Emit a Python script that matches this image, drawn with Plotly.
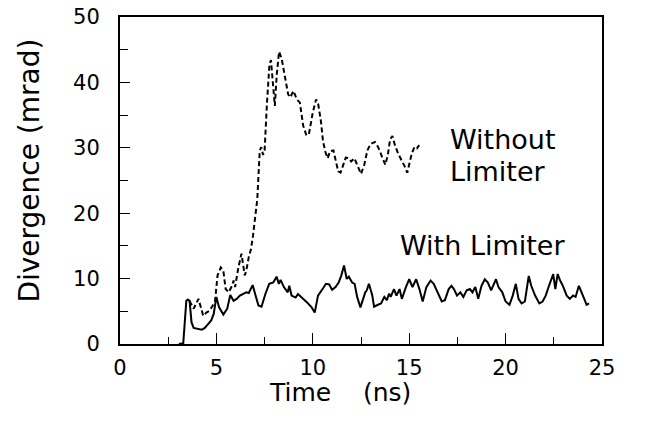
import plotly.graph_objects as go

# ---- data ----
time_without = [3.6, 3.82, 4.07, 4.32, 4.48, 4.65, 4.81, 4.93, 5.06, 5.23, 5.36, 5.48, 5.64, 5.81,
                5.89, 5.97, 6.14, 6.3, 6.47, 6.55, 6.68, 6.8, 6.9, 7.0, 7.12, 7.25, 7.33, 7.42, 7.5,
                7.62, 7.75, 7.83, 7.92, 8.03, 8.13, 8.25, 8.38, 8.55, 8.72, 8.83, 9.0, 9.17, 9.33,
                9.5, 9.67, 9.8, 10.0, 10.17, 10.28, 10.42, 10.53, 10.65, 10.77, 10.9, 11.07, 11.2,
                11.32, 11.44, 11.57, 11.71, 11.88, 11.99, 12.16, 12.33, 12.5, 12.67, 12.83, 13.0,
                13.22, 13.39, 13.59, 13.76, 13.89, 14.01, 14.13, 14.26, 14.43, 14.6, 14.76, 14.9,
                15.01, 15.13, 15.27, 15.4, 15.52]
div_without = [6.6, 5.4, 6.9, 4.3, 4.8, 5.1, 5.9, 6.6, 10.5, 11.7, 11.2, 8.4, 7.9, 8.9,
               9.7, 8.7, 11.7, 13.8, 10.5, 11.2, 13.3, 14.6, 16.6, 19.1, 22.1, 29.6, 30.1, 28.9, 29.6,
               36.7, 42.7, 43.4, 40.2, 36.4, 41.2, 44.7, 43.7, 40.9, 38.2, 37.7, 38.7, 37.4, 36.9,
               33.4, 31.9, 32.1, 35.4, 37.4, 36.7, 34.1, 31.0, 29.4, 28.4, 29.5, 29.6, 27.9,
               26.4, 26.2, 27.4, 28.5, 28.4, 27.9, 28.4, 27.2, 26.0, 27.4, 29.6, 30.6,
               30.9, 30.1, 28.6, 27.4, 28.9, 31.3, 31.8, 30.4, 29.1, 28.2, 27.2, 26.2,
               27.4, 29.1, 30.1, 29.9, 30.4]

time_with = [3.05, 3.28, 3.44, 3.52, 3.61, 3.71, 3.82, 4.07, 4.24, 4.4, 4.57, 4.73, 4.86, 5.0,
             5.14, 5.36, 5.56, 5.72, 5.89, 6.05, 6.22, 6.38, 6.55, 6.68, 6.88, 7.01, 7.18, 7.34,
             7.54, 7.74, 7.95, 8.12, 8.24, 8.33, 8.5, 8.7, 8.78, 8.9, 9.11, 9.23, 9.44, 9.69,
             9.94, 10.1, 10.27, 10.43, 10.55, 10.68, 10.85, 11.0, 11.18, 11.34, 11.48, 11.62,
             11.76, 11.87, 12.04, 12.17, 12.3, 12.47, 12.58, 12.72, 12.8, 12.91, 13.08, 13.18,
             13.38, 13.54, 13.71, 13.84, 13.96, 14.04, 14.21, 14.34, 14.5, 14.62, 14.83, 15.0,
             15.17, 15.36, 15.53, 15.7, 15.89, 16.11, 16.27, 16.39, 16.52, 16.69, 16.85, 17.05,
             17.19, 17.32, 17.48, 17.65, 17.81, 17.98, 18.15, 18.28, 18.43, 18.58, 18.75, 18.92,
             19.08, 19.25, 19.5, 19.63, 19.83, 20.0, 20.2, 20.37, 20.53, 20.67, 20.83, 21.0,
             21.2, 21.33, 21.53, 21.75, 21.92, 22.08, 22.25, 22.47, 22.58, 22.7, 22.83, 22.97,
             23.17, 23.33, 23.5, 23.63, 23.8, 23.92, 24.08, 24.2, 24.33]
div_with = [0.0, 0.1, 6.6, 6.8, 6.6, 3.3, 2.45, 2.3, 2.2, 2.45, 3.1, 3.6, 4.6, 7.2,
            5.6, 4.5, 5.4, 7.5, 6.6, 6.9, 7.4, 7.65, 7.9, 7.8, 9.0, 7.65, 5.9, 5.7,
            7.65, 9.2, 9.4, 10.3, 9.2, 9.8, 8.7, 7.9, 8.9, 7.4, 7.1, 7.65, 7.1, 6.4,
            5.6, 4.8, 7.4, 8.2, 8.6, 9.2, 9.1, 8.3, 8.7, 9.4, 10.5, 12.0,
            9.95, 10.3, 9.4, 9.2, 7.2, 5.6, 6.7, 7.9, 8.2, 9.2, 7.5, 5.7,
            6.0, 6.2, 7.2, 6.7, 7.7, 7.2, 8.4, 7.4, 8.4, 6.9, 8.7, 9.9,
            8.7, 9.9, 8.4, 6.5, 8.7, 9.7, 9.2, 8.4, 7.4, 6.5, 6.7, 8.4,
            8.9, 8.4, 7.4, 7.9, 7.2, 8.2, 8.4, 7.9, 8.7, 6.9, 8.9, 9.9,
            9.4, 8.2, 9.9, 8.7, 7.9, 6.5, 6.0, 7.4, 9.2, 6.9, 6.2, 6.5,
            10.4, 8.9, 7.4, 6.2, 6.5, 7.4, 8.9, 10.7, 8.4, 10.7, 9.7, 8.9,
            7.4, 6.9, 7.4, 7.2, 8.9, 7.9, 6.9, 6.0, 6.2]

x_ticks = [0, 5, 10, 15, 20, 25]
y_ticks = [0, 10, 20, 30, 40, 50]
label_without = ["Without", "Limiter"]
label_with = "With Limiter"
x_title = "Time\u00a0\u00a0\u00a0\u00a0(ns)"
y_title = "Divergence (mrad)"

FONT = "DejaVu Sans"

fig = go.Figure()
fig.add_trace(go.Scatter(x=time_without, y=div_without, mode="lines",
                         line=dict(color="black", width=2, dash="5px,3px"),
                         showlegend=False, hoverinfo="skip"))
fig.add_trace(go.Scatter(x=time_with, y=div_with, mode="lines",
                         line=dict(color="black", width=2),
                         showlegend=False, hoverinfo="skip"))

def txt(x, y, s, size=27, angle=0, xanchor="left"):
    fig.add_annotation(x=x, y=y, xref="paper", yref="paper", text=s, textangle=angle,
                       showarrow=False, xanchor=xanchor, yanchor="middle",
                       font=dict(family=FONT, size=size, color="black"))

txt(0.68, 0.624, label_without[0])
txt(0.68, 0.529, label_without[1])
txt(0.577, 0.300, label_with)
# axis titles (positions in paper units of the 482x327 plot area)
txt(0.457, -0.147, x_title, size=25, xanchor="center")
txt(-0.187, 0.53, y_title, size=28, angle=-90, xanchor="center")

fig.update_layout(
    width=646, height=421,
    margin=dict(l=120, r=44, t=17, b=77),
    paper_bgcolor="white", plot_bgcolor="white",
    font=dict(family=FONT, color="black"),
    xaxis=dict(range=[0, 25], tickvals=x_ticks, ticktext=[str(v) for v in x_ticks],
               automargin=False, ticklabeloverflow="allow",
               showgrid=False, zeroline=False, showline=True, mirror=True,
               linecolor="black", linewidth=2, ticks="inside", ticklen=11, tickwidth=1,
               tickcolor="black", tickfont=dict(size=21), ticklabelstandoff=4,
               minor=dict(dtick=2.5, tick0=0, ticks="inside", ticklen=7, tickcolor="black")),
    yaxis=dict(range=[0, 50], tickvals=y_ticks, ticktext=[str(v) for v in y_ticks],
               automargin=False, ticklabeloverflow="allow",
               showgrid=False, zeroline=False, showline=True, mirror=True,
               linecolor="black", linewidth=2, ticks="inside", ticklen=10, tickwidth=1,
               tickcolor="black", tickfont=dict(size=21), ticklabelstandoff=14,
               minor=dict(dtick=5, tick0=0, ticks="inside", ticklen=8, tickcolor="black")),
)

fig.write_html("out.html", config={"displayModeBar": False},
               post_script="document.body.style.margin='0';")
